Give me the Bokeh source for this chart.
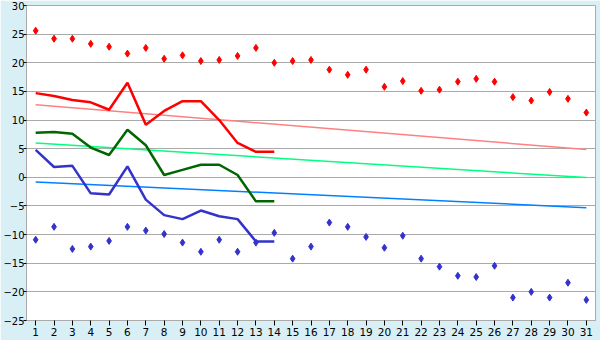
from bokeh.plotting import figure
from bokeh.models import FixedTicker, Range1d
from bokeh.embed import file_html
from bokeh.resources import INLINE

days = list(range(1, 32))
max_pts = [25.6, 24.2, 24.2, 23.3, 22.8, 21.6, 22.6, 20.7, 21.3, 20.3, 20.5, 21.2, 22.6, 20.0, 20.3, 20.5,
           18.8, 17.9, 18.8, 15.8, 16.8, 15.1, 15.3, 16.7, 17.2, 16.7, 14.0, 13.4, 14.9, 13.7, 11.3]
min_pts = [-10.9, -8.65, -12.5, -12.1, -11.1, -8.65, -9.3, -9.9, -11.4, -13.0, -10.9, -13.0, -11.4, -9.7,
           -14.2, -12.1, -7.9, -8.65, -10.4, -12.3, -10.2, -14.2, -15.6, -17.2, -17.4, -15.45, -21.0, -20.0,
           -21.0, -18.4, -21.4]
line_days = list(range(1, 15))
max_line = [14.7, 14.2, 13.5, 13.1, 11.8, 16.5, 9.2, 11.6, 13.3, 13.3, 10.0, 6.0, 4.45, 4.45]
mean_line = [7.8, 7.9, 7.6, 5.2, 3.9, 8.3, 5.6, 0.4, 1.3, 2.2, 2.2, 0.4, -4.2, -4.2]
min_line = [4.8, 1.8, 2.0, -2.8, -3.0, 1.9, -3.9, -6.6, -7.3, -5.8, -6.8, -7.3, -11.2, -11.2]
norm_days = [1, 31]
norm_max = [12.65, 4.85]
norm_mean = [6.0, -0.05]
norm_min = [-0.8, -5.3]
y_ticks = [-25, -20, -15, -10, -5, 0, 5, 10, 15, 20, 25, 30]

p = figure(width=600, height=340, output_backend="svg", toolbar_location=None,
           x_range=Range1d(0.5, 31.5), y_range=Range1d(-25, 30),
           min_border_left=26, min_border_right=5, min_border_top=5, min_border_bottom=20)
p.border_fill_color = "#d8eff6"
p.background_fill_color = "white"
p.outline_line_color = "#aaaaaa"
p.xgrid.grid_line_color = None
p.ygrid.grid_line_color = "#aaaaaa"
p.ygrid.grid_line_width = 1

for ax in (p.xaxis[0], p.yaxis[0]):
    ax.axis_line_color = "#aaaaaa"
    ax.major_tick_line_color = "black"
    ax.minor_tick_line_color = None
    ax.major_label_text_font = "DejaVu Sans"
    ax.major_label_text_color = "black"
p.xaxis.major_label_text_font_size = "10.5px"
p.yaxis.major_label_text_font_size = "10px"
p.xaxis.major_label_standoff = 2
p.yaxis.major_label_standoff = -1
p.xaxis.ticker = FixedTicker(ticks=days)
p.yaxis.ticker = FixedTicker(ticks=y_ticks)
p.xaxis.major_tick_out = 5
p.xaxis.major_tick_in = 0
p.yaxis.major_tick_out = 3
p.yaxis.major_tick_in = 0

p.line(norm_days, norm_max, line_color="#ff8080", line_width=1.5)
p.line(norm_days, norm_mean, line_color="#00ff80", line_width=1.5)
p.line(norm_days, norm_min, line_color="#0080ff", line_width=1.5)

p.line(line_days, max_line, line_color="#ff0000", line_width=2.5)
p.line(line_days, mean_line, line_color="#006600", line_width=2.5)
p.line(line_days, min_line, line_color="#3333cc", line_width=2.5)

p.scatter(days, max_pts, marker="diamond", size=7, color="#ff0000")
p.scatter(days, min_pts, marker="diamond", size=7, color="#3333cc")

open("out.html", "w").write(file_html(p, INLINE))
